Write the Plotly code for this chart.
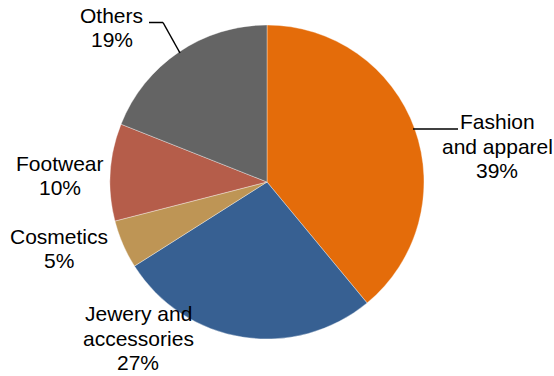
import plotly.graph_objects as go

categories = ["Fashion<br>and apparel", "Jewery and<br>accessories", "Cosmetics", "Footwear", "Others"]
shares = [39, 27, 5, 10, 19]
colors = ["#E46C0A", "#376092", "#BE9555", "#B55D4A", "#646464"]

W, H = 554, 376
FS = 21
LINE = 24.2
# label anchor: (centre x, baseline of first line), in pixels
label_pos = [(497, 129.5), (138, 321.5), (59, 244), (60, 170.7), (112, 23.3)]

fig = go.Figure(go.Pie(
    labels=[c.replace("<br>", " ") for c in categories],
    values=shares,
    sort=False,
    direction="clockwise",
    rotation=0,
    textinfo="none",
    hoverinfo="label+percent",
    marker=dict(colors=colors, line=dict(color="rgba(255,255,255,0.6)", width=0.6)),
    domain=dict(x=[110 / W, 424 / W], y=[1 - 339 / H, 1 - 25 / H]),
    showlegend=False,
))

annotations = []
for cat, val, (px, base) in zip(categories, shares, label_pos):
    lines = cat.split("<br>") + [f"{val}%"]
    for i, ln in enumerate(lines):
        by = base + i * LINE
        cy = by - 0.36 * FS
        annotations.append(dict(
            x=px / W, y=1 - cy / H, xref="paper", yref="paper",
            text=ln, showarrow=False,
            font=dict(family="Liberation Sans, Arial, sans-serif", size=FS, color="#000000"),
            align="center", xanchor="center", yanchor="middle",
        ))

def P(x, y):
    return x / W, 1 - y / H

shapes = []
for (x0, y0), (x1, y1) in [((149, 22.5), (163, 22.5)), ((163, 22.5), (180, 53)), ((413, 129), (458, 129))]:
    a, b = P(x0, y0)
    c, d = P(x1, y1)
    shapes.append(dict(type="line", xref="paper", yref="paper", x0=a, y0=b, x1=c, y1=d,
                       line=dict(color="#000000", width=1.5)))

fig.update_layout(
    width=W, height=H,
    margin=dict(l=0, r=0, t=0, b=0),
    paper_bgcolor="white", plot_bgcolor="white",
    annotations=annotations, shapes=shapes,
)

fig.write_html("out.html", config={"displayModeBar": False},
               post_script="document.body.style.margin='0';document.body.style.overflow='hidden';")
